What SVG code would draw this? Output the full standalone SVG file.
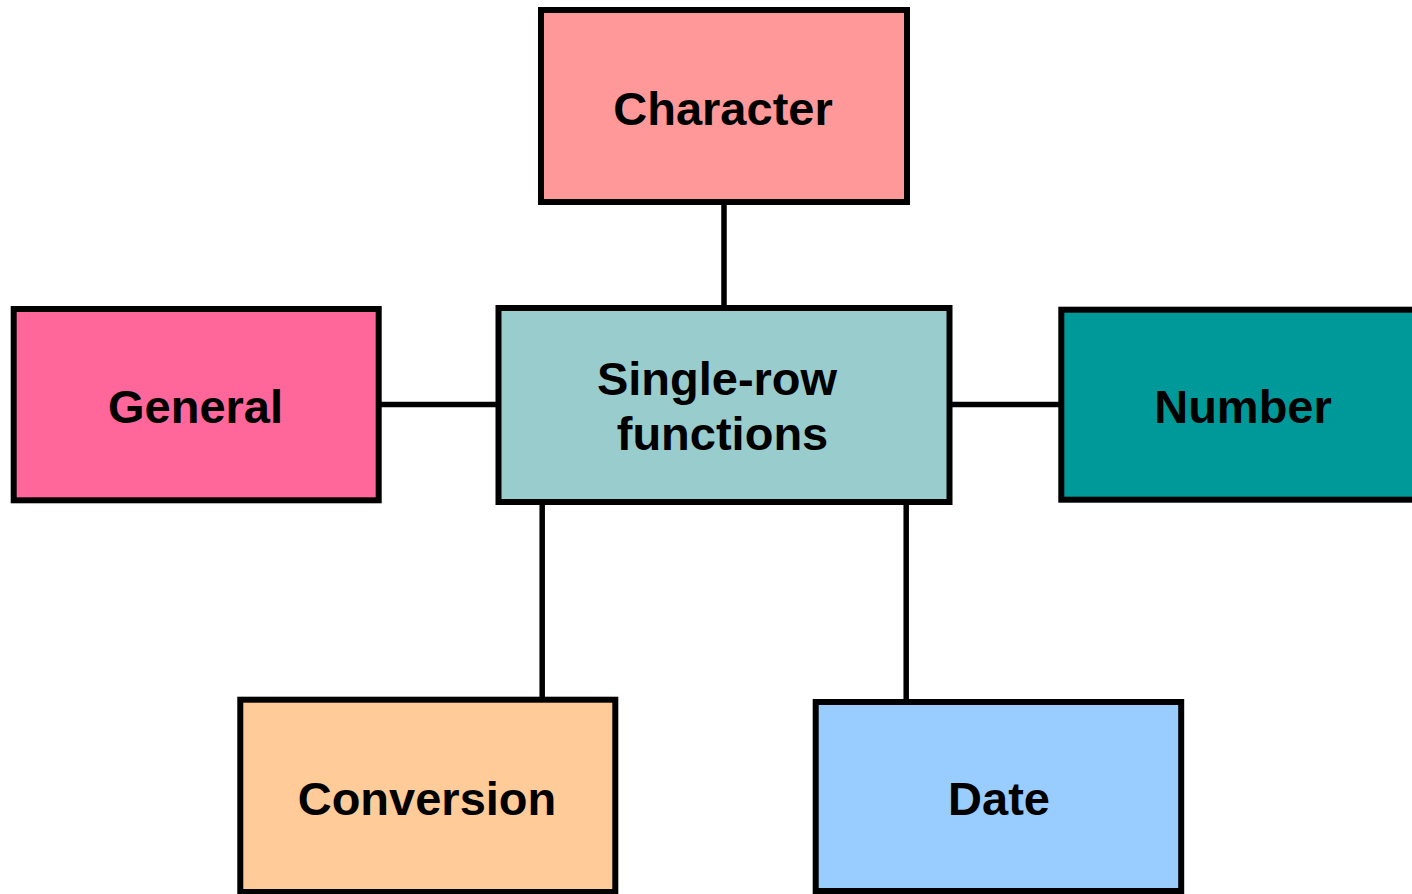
<svg xmlns="http://www.w3.org/2000/svg" width="1412" height="894" viewBox="0 0 1412 894">
<style>
.box{stroke:#000;stroke-width:6;}
.lbl{font-family:"Liberation Sans",Arial,sans-serif;font-weight:bold;font-size:47px;fill:#000;text-anchor:middle;}
.conn line{stroke:#000;stroke-width:5.5;}
</style>
<rect width="1412" height="894" fill="#fff"/>
<g id="connectors" class="conn">
<line x1="724" y1="204" x2="724" y2="306"/>
<line x1="381" y1="404.5" x2="496" y2="404.5"/>
<line x1="952" y1="404.5" x2="1059" y2="404.5"/>
<line x1="542.2" y1="504" x2="542.2" y2="697"/>
<line x1="906.2" y1="504" x2="906.2" y2="699"/>
</g>
<g id="character">
<rect class="box" x="541" y="10" width="366" height="192" fill="#FF9999"/>
<text class="lbl" x="723" y="125">Character</text>
</g>
<g id="general">
<rect class="box" x="13.7" y="309" width="365" height="191.3" fill="#FF6699"/>
<text class="lbl" x="195.5" y="423">General</text>
</g>
<g id="single-row">
<rect class="box" x="498.5" y="308" width="451" height="194" fill="#99CCCC"/>
<text class="lbl" x="717" y="395">Single-row</text>
<text class="lbl" x="722.5" y="450">functions</text>
</g>
<g id="number">
<rect class="box" x="1061.3" y="309.7" width="364" height="190" fill="#009999"/>
<text class="lbl" x="1243" y="423">Number</text>
</g>
<g id="conversion">
<rect class="box" x="240.3" y="699.7" width="375" height="192.3" fill="#FFCC99"/>
<text class="lbl" x="427" y="815">Conversion</text>
</g>
<g id="date">
<rect class="box" x="815.7" y="702" width="365.5" height="189" fill="#99CCFF"/>
<text class="lbl" x="999" y="815">Date</text>
</g>
</svg>
